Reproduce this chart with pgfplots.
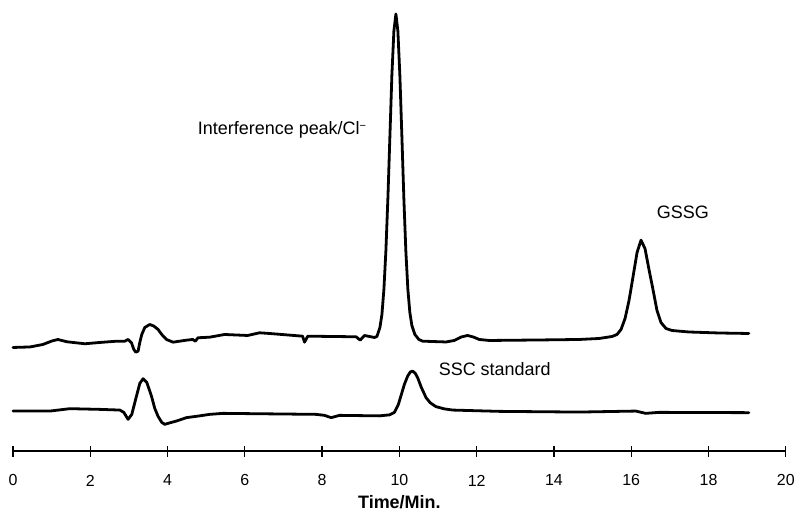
\documentclass[border=0pt]{standalone}
\usepackage{fontspec}
\setmainfont{Liberation Sans}
\usepackage{pgfplots}
\pgfplotsset{compat=1.18}
\begin{document}
\begin{tikzpicture}[x=1pt,y=1pt]
\begin{axis}[
  scale only axis,
  width=774pt, height=452pt,
  xmin=0, xmax=20, ymin=0, ymax=452,
  axis x line=bottom, axis y line=none,
  x axis line style={-, line width=1.8pt, black},
  xtick={0,2,...,20},
  tick align=center,
  major tick length=11pt,
  xtick style={line width=1.3pt, black},
  /pgf/number format/assume math mode=true,
  xticklabel style={font=\fontsize{16}{19}\selectfont, anchor=center, yshift=-23.7pt},
  xlabel={Time/Min.},
  xlabel style={at={(axis description cs:0.5,0)}, anchor=center, yshift=-51pt, font=\fontsize{18}{21}\selectfont\bfseries},
  clip=false,
]
% invisible frame fixing the page to the reference proportions
\path (axis cs:-0.336,-58) rectangle (axis cs:20.284,452);

% upper chromatogram
\addplot[black, no markers, line width=2.8pt, line join=round, line cap=round] coordinates {
(0.000,104) (0.439,104.5) (0.775,107) (1.008,110.5) (1.163,112) (1.395,109.7)
(1.860,107.7) (2.248,109) (2.687,110.3) (2.894,110.3) (2.979,112) (3.067,108.7)
(3.127,102) (3.178,99.3) (3.238,100.3) (3.282,109) (3.333,117) (3.411,124)
(3.540,127) (3.643,125.5) (3.755,122) (3.850,117) (3.972,112) (4.142,109.3)
(4.488,111.3) (4.651,112) (4.721,110.3) (4.788,113.7) (5.090,114.3) (5.478,117)
(6.072,116) (6.382,118.7) (6.641,118) (7.494,115.3) (7.545,109.3) (7.630,115.3)
(8.881,114.7) (8.985,111.3) (9.096,116) (9.354,114)
(9.419,115) (9.496,124) (9.548,137) (9.599,162) (9.651,201) (9.703,254)
(9.755,316) (9.806,377) (9.858,421) (9.910,438) (9.961,421) (10.013,376)
(10.065,315) (10.116,253) (10.168,200) (10.220,162) (10.271,139) (10.323,126)
(10.401,117) (10.504,112) (10.602,110.3) (11.207,109.5) (11.421,111) (11.602,114.5)
(11.765,116) (11.912,114.5) (12.067,112) (12.326,111) (13.618,111.5) (14.651,112)
(15.168,113) (15.504,115) (15.633,117) (15.736,122) (15.840,133) (15.943,151)
(16.047,175) (16.150,199) (16.253,211.5) (16.357,203) (16.460,182) (16.563,162)
(16.667,141) (16.770,129) (16.899,123) (17.054,121) (17.494,119.5) (18.269,118.5)
(19.044,118)
};

% lower chromatogram (SSC standard)
\addplot[black, no markers, line width=2.8pt, line join=round, line cap=round] coordinates {
(0.000,40.3) (0.956,40.3) (1.473,42.7) (2.248,42) (2.765,41.3) (2.868,39)
(2.979,32) (3.075,37) (3.196,55.3) (3.282,68) (3.367,72.7) (3.463,69)
(3.584,55.3) (3.669,43) (3.755,35) (3.850,29) (3.928,27) (4.057,28.5)
(4.230,30.3) (4.488,33.7) (4.832,35.5) (5.090,37) (5.434,38) (7.848,37)
(8.062,36) (8.235,33.7) (8.450,36) (9.483,35.5) (9.742,36.5) (9.871,39)
(9.974,47) (10.052,57) (10.129,67) (10.214,75.3) (10.284,79.5) (10.344,80.3)
(10.413,78) (10.473,73.7) (10.568,64) (10.690,53.7) (10.801,48.5) (10.948,44.7)
(11.163,42.5) (11.377,41.3) (12.584,40) (14.651,39.3) (16.116,40.3) (16.375,38)
(16.718,39) (19.044,38.7)
};

\node[anchor=west, inner sep=0pt, font=\fontsize{18}{21}\selectfont] at (axis cs:4.78,322) {Interference peak/Cl\raisebox{0.55ex}{\fontsize{11}{12}\selectfont\char"2212}};
\node[anchor=west, inner sep=0pt, font=\fontsize{18}{21}\selectfont] at (axis cs:16.66,239) {GSSG};
\node[anchor=west, inner sep=0pt, font=\fontsize{18}{21}\selectfont] at (axis cs:11.015,82) {SSC standard};
\end{axis}
\end{tikzpicture}
\end{document}
